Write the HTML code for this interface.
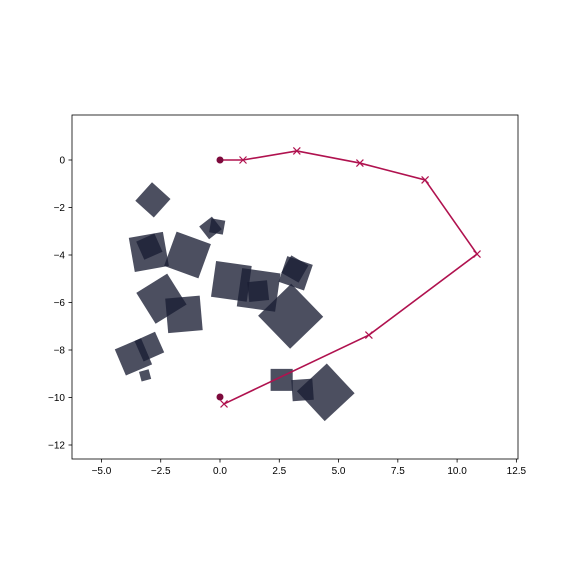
<!DOCTYPE html>
<html><head><meta charset="utf-8"><style>
body{margin:0;background:#fff}
svg{display:block;font-family:"Liberation Sans",sans-serif}
</style></head><body>
<svg id="chart" width="576" height="576" viewBox="0 0 576 576">
<rect width="576" height="576" fill="#fff"/>
<g id="squares"></g>
<g id="path"></g>
<rect x="72" y="115" width="446" height="344" fill="none" stroke="#000" stroke-width="0.8"/>
<g id="xaxis"></g>
<g id="yaxis"></g>
</svg>
<script>
// data
const sqX=[-2.83,-0.4,-0.12,-3.0,-2.98,-1.37,-2.47,-1.52,0.48,1.63,1.61,3.19,3.16,2.98,-3.65,-2.98,-3.16,2.6,3.48,4.46];
const sqY=[-1.68,-2.86,-2.8,-3.87,-3.65,-4.0,-5.84,-6.5,-5.11,-5.47,-5.52,-4.77,-4.59,-6.58,-8.29,-7.86,-9.07,-9.26,-9.68,-9.78];
const sqS=[1.05,0.68,0.59,1.46,0.84,1.54,1.54,1.46,1.52,1.63,0.84,1.14,0.84,1.94,1.2,0.95,0.42,0.93,0.89,1.72];
const sqA=[42,-38,10,-10,-24,20,-32,-5,8,8,-6,19,30,-44,-23,-24,-15,0,-4,-43];
const pathX=[0,0.97,3.24,5.9,8.65,10.84,6.28,0.17];
const pathY=[0,0,0.38,-0.13,-0.84,-3.96,-7.37,-10.27];
const dotX=[0,0];
const dotY=[0,-9.98];
const xTicks=[-5,-2.5,0,2.5,5,7.5,10,12.5];
const yTicks=[0,-2,-4,-6,-8,-10,-12];
const sx=v=>220+v*23.71;
const sy=v=>160-v*23.75;
const NS="http://www.w3.org/2000/svg";
const mk=(t,a,p)=>{const e=document.createElementNS(NS,t);for(const k in a)e.setAttribute(k,a[k]);p.appendChild(e);return e;};
const sg=document.getElementById('squares');
for(let i=0;i<sqX.length;i++){
  const cx=sx(sqX[i]),cy=sy(sqY[i]),h=sqS[i]*23.7/2,a=sqA[i]*Math.PI/180;
  const pts=[[-h,-h],[h,-h],[h,h],[-h,h]].map(([u,v])=>(cx+u*Math.cos(a)-v*Math.sin(a)).toFixed(1)+','+(cy+u*Math.sin(a)+v*Math.cos(a)).toFixed(1)).join(' ');
  const p=mk('polygon',{points:pts,fill:'rgb(25,30,51)','fill-opacity':'0.78'},sg);
  
  
}
const pg=document.getElementById('path');
const line=mk('polyline',{points:pathX.map((x,i)=>sx(x)+','+sy(pathY[i])).join(' '),fill:'none',stroke:'#b0124f','stroke-width':1.6},pg);


for(let i=1;i<pathX.length;i++){
  const x=sx(pathX[i]),y=sy(pathY[i]),d=3.5;
  const m=mk('path',{d:`M${x-d},${y-d}L${x+d},${y+d}M${x-d},${y+d}L${x+d},${y-d}`,stroke:'#b0124f','stroke-width':1.2},pg);
  
  
}
for(let i=0;i<dotX.length;i++){
  const c=mk('circle',{cx:sx(dotX[i]),cy:sy(dotY[i]),r:3.5,fill:'#7d0a3c'},pg);
  
  
}
const xa=document.getElementById('xaxis');
xTicks.forEach(t=>{const x=sx(t);
  const l=mk('line',{x1:x,x2:x,y1:459,y2:462.5,stroke:'#000','stroke-width':0.8},xa);
  
  
  const tx=mk('text',{x:x,y:474,'font-size':10,'text-anchor':'middle'},xa);tx.textContent=t.toFixed(1).replace('-','\u2212');
  
  
});
const ya=document.getElementById('yaxis');
yTicks.forEach(t=>{const y=sy(t);
  const l=mk('line',{x1:68.5,x2:72,y1:y,y2:y,stroke:'#000','stroke-width':0.8},ya);
  
  
  const tx=mk('text',{x:65,y:y+3.5,'font-size':10,'text-anchor':'end'},ya);tx.textContent=String(t).replace('-','\u2212');
  
  
});
</script>
</body></html>
